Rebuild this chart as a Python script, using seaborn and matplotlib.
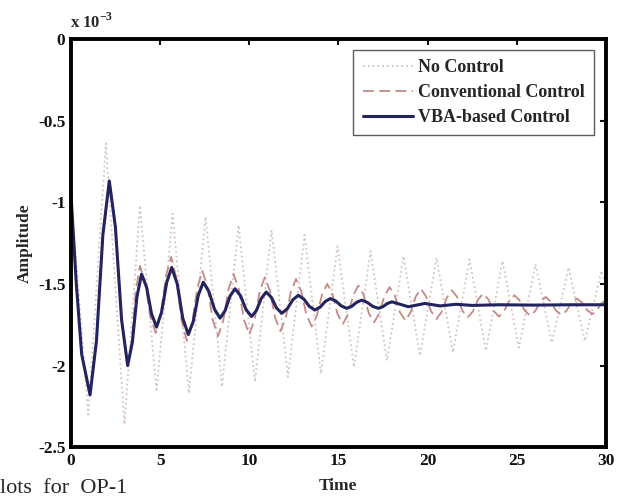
import matplotlib
matplotlib.use("Agg")
import matplotlib.pyplot as plt
import seaborn as sns
import pandas as pd

# ---- data (amplitude in units of 1e-3) ----
t_none = [0.0, 0.97, 1.96, 3.0, 3.87, 4.8, 5.7, 6.62, 7.55, 8.47, 9.4, 10.32,
          11.25, 12.17, 13.1, 14.02, 14.95, 15.87, 16.8, 17.72, 18.65, 19.57,
          20.5, 21.42, 22.35, 23.27, 24.2, 25.12, 26.05, 26.97, 27.9, 28.82,
          29.75, 30.0]
v_none = [-0.95, -2.30, -0.64, -2.36, -1.02, -2.16, -1.07, -2.17, -1.09, -2.13,
          -1.14, -2.10, -1.17, -2.07, -1.20, -2.05, -1.27, -2.01, -1.30, -1.97,
          -1.33, -1.94, -1.34, -1.92, -1.35, -1.91, -1.36, -1.89, -1.38, -1.86,
          -1.40, -1.85, -1.42, -1.50]

t_conv = [0.0, 0.3, 0.6, 1.07, 1.43, 1.79, 2.15, 2.49, 2.84, 3.18,
          3.41, 3.64, 3.87, 4.16, 4.45, 4.75, 5.04, 5.33, 5.62, 5.91, 6.2, 6.5,
          6.79, 7.08, 7.37, 7.66, 7.95, 8.25, 8.54, 8.83, 9.12, 9.41, 9.7, 10.0,
          10.29, 10.58, 10.87, 11.16, 11.45, 11.75, 12.04, 12.33, 12.62, 12.91,
          13.2, 13.5, 13.79, 14.08, 14.37, 14.66, 14.95, 15.25, 15.54, 15.83,
          16.12, 16.41, 16.7, 17.0, 17.29, 17.58, 17.87, 18.16, 18.45, 18.75,
          19.04, 19.33, 19.62, 19.91, 20.2, 20.5, 20.79, 21.08, 21.37, 21.66,
          21.95, 22.25, 22.54, 22.83, 23.12, 23.41, 23.7, 24.0, 24.29, 24.58,
          24.87, 25.16, 25.45, 25.75, 26.04, 26.33, 26.62, 26.91, 27.2, 27.5,
          27.79, 28.08, 28.37, 28.66, 28.95, 29.25, 29.5, 29.75, 30.0]
v_conv = [-0.95, -1.5, -1.93, -2.18, -1.85, -1.20, -0.87, -1.15, -1.72, -2.0,
          -1.85, -1.54, -1.39, -1.49, -1.70, -1.80, -1.684, -1.451, -1.335,
          -1.464, -1.721, -1.85, -1.743, -1.528, -1.42, -1.52, -1.72, -1.82,
          -1.725, -1.535, -1.44, -1.533, -1.718, -1.81, -1.723, -1.548, -1.46,
          -1.543, -1.708, -1.79, -1.71, -1.55, -1.47, -1.543, -1.688, -1.76,
          -1.695, -1.565, -1.50, -1.561, -1.684, -1.745, -1.686, -1.569, -1.51,
          -1.566, -1.679, -1.735, -1.681, -1.574, -1.52, -1.571, -1.674, -1.725,
          -1.676, -1.579, -1.53, -1.576, -1.669, -1.715, -1.671, -1.584, -1.54,
          -1.581, -1.664, -1.705, -1.669, -1.596, -1.56, -1.595, -1.665, -1.70,
          -1.668, -1.603, -1.57, -1.601, -1.664, -1.695, -1.666, -1.609, -1.58,
          -1.608, -1.663, -1.69, -1.665, -1.615, -1.59, -1.614, -1.661, -1.685,
          -1.66, -1.62, -1.60]

t_vba = [0.0, 0.3, 0.6, 1.07, 1.43, 1.79, 2.15, 2.49, 2.84, 3.18, 3.44, 3.70,
         3.96, 4.24, 4.52, 4.8, 5.08, 5.37, 5.65, 5.96, 6.27, 6.58, 6.86, 7.14,
         7.42, 7.73, 8.05, 8.36, 8.64, 8.92, 9.2, 9.51, 9.82, 10.13, 10.40,
         10.68, 10.95, 11.24, 11.53, 11.82, 12.13, 12.44, 12.75, 13.06, 13.37,
         13.68, 13.97, 14.26, 14.55, 14.85, 15.16, 15.46, 15.74, 16.02, 16.3,
         16.61, 16.93, 17.24, 17.49, 17.75, 18.0, 18.92, 19.85, 20.7, 21.6,
         22.5, 24.0, 26.0, 28.0, 30.0]
v_vba = [-0.95, -1.5, -1.93, -2.18, -1.85, -1.20, -0.87, -1.15, -1.72, -2.0,
         -1.86, -1.58, -1.44, -1.52, -1.684, -1.765, -1.674, -1.491, -1.40,
         -1.50, -1.71, -1.81, -1.73, -1.57, -1.49, -1.545, -1.655, -1.71,
         -1.665, -1.575, -1.53, -1.573, -1.658, -1.70, -1.663, -1.588, -1.55,
         -1.583, -1.648, -1.68, -1.653, -1.598, -1.57, -1.593, -1.638, -1.66,
         -1.643, -1.608, -1.59, -1.605, -1.635, -1.65, -1.638, -1.613, -1.60,
         -1.613, -1.638, -1.65, -1.64, -1.62, -1.61, -1.64, -1.62, -1.635,
         -1.625, -1.632, -1.628, -1.63, -1.628, -1.628]

labels = ["No Control", "Conventional Control", "VBA-based Control"]
x_ticks = [0, 5, 10, 15, 20, 25, 30]
y_ticks = [0, -0.5, -1, -1.5, -2, -2.5]
y_tick_labels = ["0", "-0.5", "-1", "-1.5", "-2", "-2.5"]

df_none = pd.DataFrame({"Time": t_none, "Amplitude": v_none})
df_conv = pd.DataFrame({"Time": t_conv, "Amplitude": v_conv})
df_vba = pd.DataFrame({"Time": t_vba, "Amplitude": v_vba})

sns.set_theme(style="white")
plt.rcParams["font.family"] = ["Liberation Serif", "DejaVu Serif"]
plt.rcParams["mathtext.fontset"] = "custom"
plt.rcParams["mathtext.rm"] = "Liberation Serif:bold"

fig = plt.figure(figsize=(6.17, 4.98), dpi=100)
ax = fig.add_axes([0.115, 0.102, 0.867, 0.820])

sns.lineplot(data=df_none, x="Time", y="Amplitude", ax=ax, color="#d4c2c4",
             linestyle=":", linewidth=1.3, label=labels[0], estimator=None, sort=False)
sns.lineplot(data=df_conv, x="Time", y="Amplitude", ax=ax, color="#c48a84",
             linestyle=(0, (6, 3)), linewidth=1.3, label=labels[1], estimator=None, sort=False)
sns.lineplot(data=df_vba, x="Time", y="Amplitude", ax=ax, color="#23235f",
             linewidth=2.2, label=labels[2], estimator=None, sort=False)

ax.set_xlim(0, 30)
ax.set_ylim(-2.5, 0)
ax.set_xticks(x_ticks)
ax.set_xticklabels([str(v) for v in x_ticks])
ax.set_yticks(y_ticks)
ax.set_yticklabels(y_tick_labels)
ax.tick_params(direction="in", length=4, width=1.5, top=True, right=True,
               labelsize=12.5, pad=4, colors="#111111")
for lab in ax.get_xticklabels() + ax.get_yticklabels():
    lab.set_fontweight("bold")
for s in ax.spines.values():
    s.set_linewidth(2.8)
    s.set_color("black")

ax.set_xlabel("Time", fontsize=12.5, fontweight="bold", labelpad=7)
ax.set_ylabel("Amplitude", fontsize=12.5, fontweight="bold", labelpad=4)

leg = ax.legend(loc="upper right", bbox_to_anchor=(0.985, 0.982),
                prop={"weight": "bold", "size": 13}, handlelength=2.8,
                handletextpad=0.3, borderpad=0.5, labelspacing=0.45,
                borderaxespad=0.2, frameon=True, fancybox=False,
                edgecolor="#333333")
leg.get_frame().set_linewidth(1.0)

fig.text(0.113, 0.936, r"x 10$^{\mathregular{-3}}$", fontsize=12,
         fontweight="bold", ha="left", va="bottom")
fig.text(0.0, 0.01, "lots  for  OP-1", fontsize=16, ha="left", va="baseline")

fig.savefig("out.png", dpi=100)
